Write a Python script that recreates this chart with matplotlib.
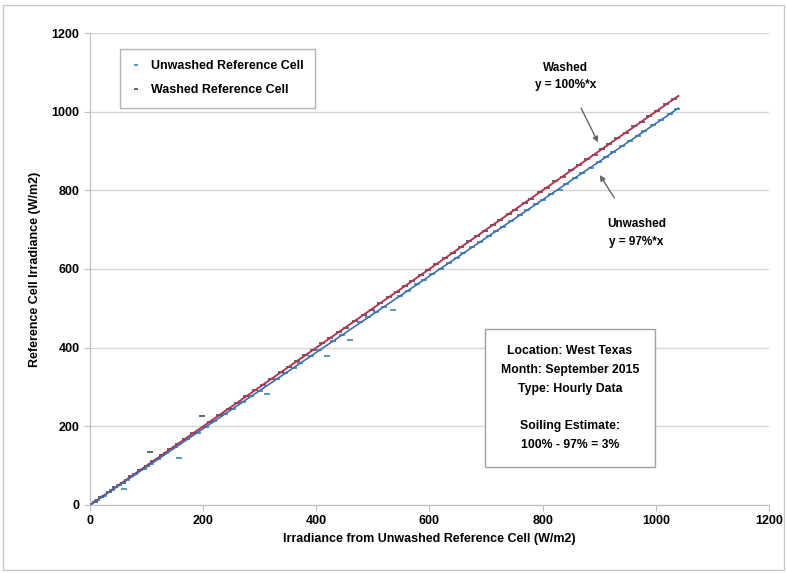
import matplotlib
matplotlib.use("Agg")
import matplotlib.pyplot as plt
from matplotlib.patches import Rectangle

plt.rcParams['font.family'] = ['Liberation Sans', 'DejaVu Sans']

# ---------------- data ----------------
uw_x = [12, 25, 38, 52, 60, 66, 80, 95, 108, 120, 135, 150, 158, 172, 190, 205, 220, 238, 252, 270,
        285, 300, 312, 330, 345, 360, 372, 390, 405, 418, 430, 445, 460, 478, 492, 505, 520, 535, 548, 562,
        578, 590, 605, 620, 635, 648, 660, 675, 690, 705, 718, 730, 745, 760, 772, 788, 800, 815, 830, 842,
        858, 870, 885, 900, 912, 925, 940, 955, 968, 980, 995, 1010, 1025, 1038]
uw_y = [12, 24, 37, 50, 40, 64, 78, 92, 105, 116, 131, 147, 120, 167, 184, 199, 213, 231, 244, 262,
        276, 291, 283, 320, 335, 349, 361, 378, 393, 380, 417, 432, 420, 464, 477, 490, 504, 495, 532, 545,
        561, 572, 587, 601, 616, 629, 640, 655, 669, 684, 696, 708, 723, 737, 749, 764, 776, 790, 801, 817,
        832, 844, 858, 873, 885, 897, 912, 926, 939, 951, 965, 980, 994, 1007]

ws_x = [8, 20, 33, 45, 58, 72, 88, 100, 106, 112, 128, 142, 155, 168, 182, 198, 212, 228, 245, 260,
        275, 292, 305, 320, 338, 352, 366, 380, 395, 410, 425, 440, 452, 468, 484, 498, 512, 528, 542, 556,
        570, 585, 598, 612, 628, 642, 655, 670, 684, 698, 712, 725, 740, 752, 768, 780, 795, 808, 822, 836,
        850, 865, 878, 892, 905, 918, 932, 948, 962, 975, 988, 1002, 1018, 1032]
ws_y = [8, 21, 33, 46, 57, 73, 89, 100, 135, 113, 127, 143, 156, 167, 183, 226, 212, 229, 245, 259,
        276, 292, 304, 321, 338, 351, 367, 381, 394, 411, 425, 441, 451, 469, 484, 497, 513, 528, 541, 557,
        570, 586, 597, 613, 628, 641, 656, 670, 685, 697, 713, 724, 741, 751, 769, 779, 796, 807, 823, 835,
        851, 864, 879, 891, 906, 917, 933, 947, 963, 974, 989, 1001, 1019, 1031]

fit_x = [0, 1040]
washed_slope = 1.00
unwashed_slope = 0.97

x_ticks = [0, 200, 400, 600, 800, 1000, 1200]
y_ticks = [0, 200, 400, 600, 800, 1000, 1200]

info_lines = ["Location: West Texas", "Month: September 2015", "Type: Hourly Data", "",
              "Soiling Estimate:", "100% - 97% = 3%"]

# ---------------- figure ----------------
fig = plt.figure(figsize=(7.87, 5.73), dpi=100)
fig.patches.append(Rectangle((0.004, 0.005), 0.992, 0.986, transform=fig.transFigure,
                             fill=False, edgecolor='#c8c8c8', linewidth=1.0))
ax = fig.add_axes([0.1144, 0.1187, 0.8626, 0.8237])

ax.set_xlim(0, 1200)
ax.set_ylim(0, 1200)
ax.set_xticks(x_ticks)
ax.set_yticks(y_ticks)
ax.grid(axis='y', color='#d6d6d6', linewidth=1.0)
ax.set_axisbelow(True)
for s in ['top', 'right']:
    ax.spines[s].set_visible(False)
for s in ['left', 'bottom']:
    ax.spines[s].set_color('#bdbdbd')
ax.tick_params(axis='both', colors='#bdbdbd', labelcolor='black', labelsize=9, length=4)
for lbl in ax.get_xticklabels() + ax.get_yticklabels():
    lbl.set_fontweight('bold')

ax.plot(uw_x, uw_y, linestyle='none', marker='_', markersize=5, markeredgewidth=1.2,
        color='#3a86ad', label='Unwashed Reference Cell', zorder=3)
ax.plot(ws_x, ws_y, linestyle='none', marker='_', markersize=5, markeredgewidth=1.2,
        color='#4e4558', label='Washed Reference Cell', zorder=3)

ax.plot(fit_x, [washed_slope * v for v in fit_x], color='#b2354f', linewidth=1.4, zorder=4)
ax.plot(fit_x, [unwashed_slope * v for v in fit_x], color='#3b6fae', linewidth=1.2, zorder=4)

ax.set_xlabel('Irradiance from Unwashed Reference Cell (W/m2)', fontsize=9, fontweight='bold')
ax.set_ylabel('Reference Cell Irradiance (W/m2)', fontsize=9, fontweight='bold', labelpad=8)

leg = ax.legend(loc='upper left', bbox_to_anchor=(0.035, 0.98), frameon=True, fancybox=False,
                edgecolor='#a0a0a0', prop={'weight': 'bold', 'size': 9}, markerscale=0.6,
                handlelength=0.8, borderpad=0.9, labelspacing=1.0)
leg.get_frame().set_linewidth(1.0)

ax.annotate('Washed\ny = 100%*x', xy=(898, 922), xytext=(840, 1090), ha='center', va='center',
            fontsize=8.5, fontweight='bold', linespacing=1.5,
            arrowprops=dict(arrowstyle='-|>', color='#666666', lw=1.0, mutation_scale=8,
                            shrinkA=12, shrinkB=0))
ax.annotate('Unwashed\ny = 97%*x', xy=(901, 839), xytext=(966, 692), ha='center', va='center',
            fontsize=8.5, fontweight='bold', linespacing=1.6,
            arrowprops=dict(arrowstyle='-|>', color='#666666', lw=1.0, mutation_scale=8,
                            shrinkA=15, shrinkB=0))

ax.text(848, 272, "\n".join(info_lines), ha='center', va='center', fontsize=8.8,
        fontweight='bold', linespacing=1.75,
        bbox=dict(boxstyle='square,pad=1.3', facecolor='white', edgecolor='#a0a0a0', linewidth=1.0))

fig.savefig('out.png', dpi=100)
